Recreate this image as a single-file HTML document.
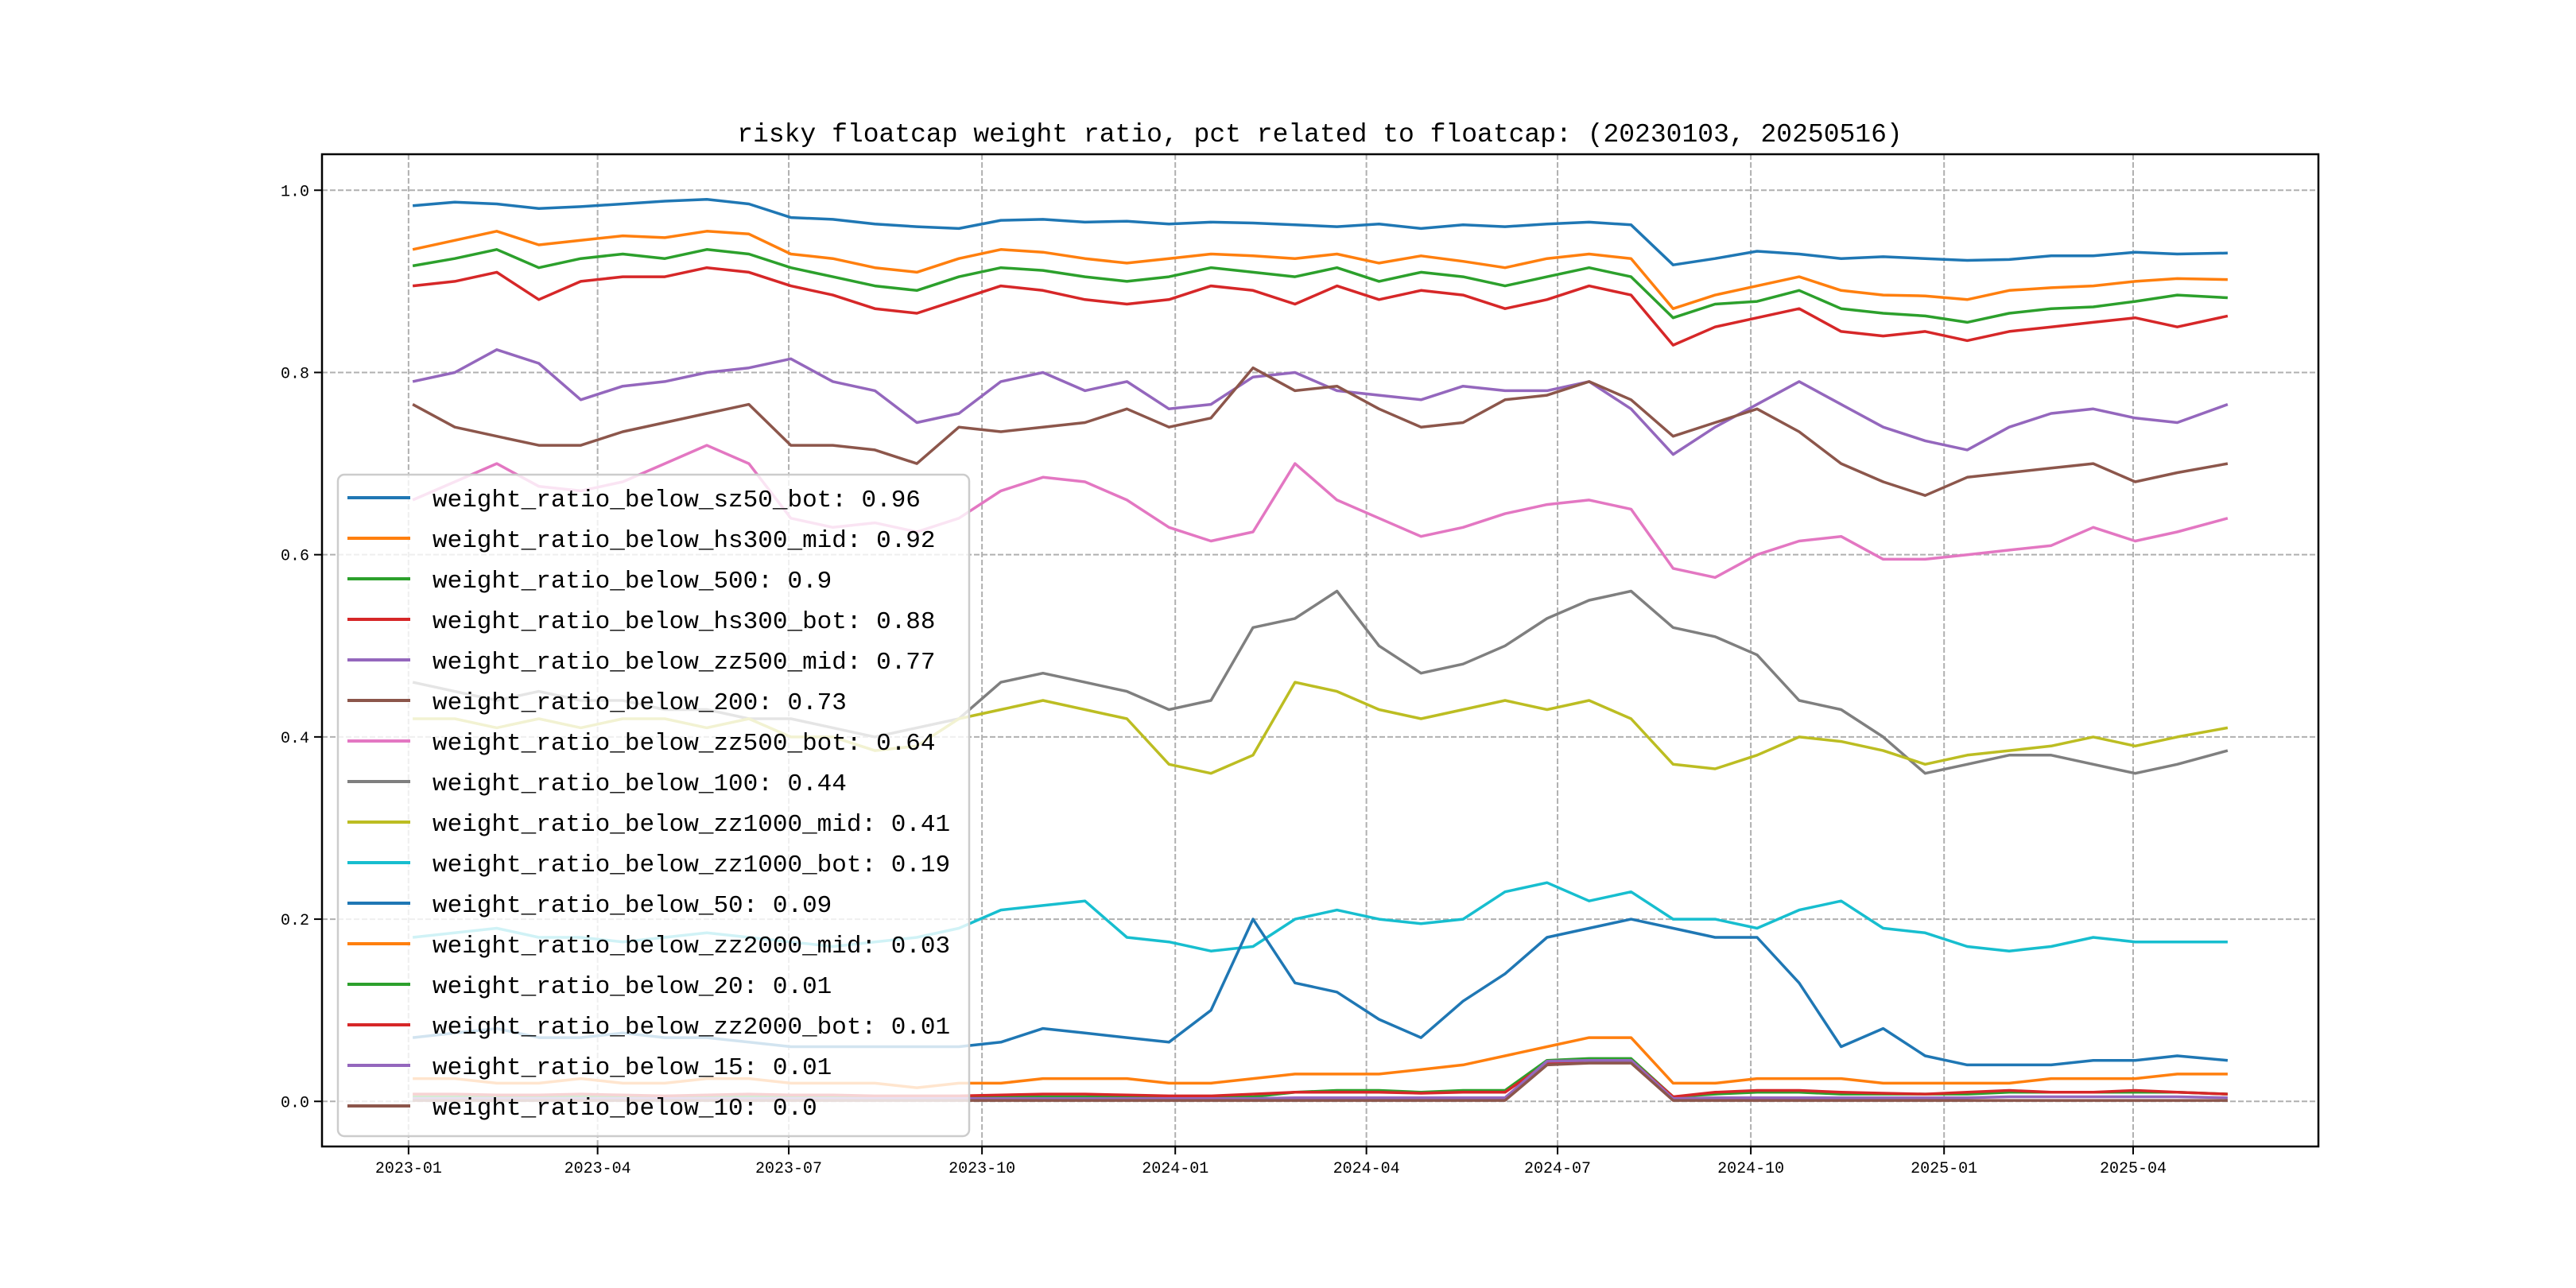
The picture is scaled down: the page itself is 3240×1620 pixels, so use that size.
<!DOCTYPE html>
<html><head><meta charset="utf-8"><style>
html,body{margin:0;padding:0;background:#fff;}
svg{display:block;}
text{font-family:"Liberation Mono","Noto Sans CJK SC",monospace;}
</style></head><body>
<svg id="chart" width="3240" height="1620" viewBox="0 0 3240 1620" xmlns="http://www.w3.org/2000/svg">
<rect x="0" y="0" width="3240" height="1620" fill="#fff"/>
<text x="1660" y="178" font-size="33" text-anchor="middle" fill="#000">risky floatcap weight ratio, pct related to floatcap: (20230103, 20250516)</text>
<g id="grid"></g>
<g id="series"></g>
<rect x="405" y="194" width="2511" height="1248" fill="none" stroke="#000" stroke-width="2.5"/>
<g id="ticks"></g>
<g id="legend"></g>
</svg>
<script>
// day offsets from 2023-01-03
const dayOffsets = [0,20,40,60,80,100,120,140,160,180,200,220,240,260,280,300,320,340,360,380,400,420,440,460,480,500,520,540,560,580,600,620,640,660,680,700,720,740,760,780,800,820,840,864];
const seriesNames = ["weight_ratio_below_sz50_bot","weight_ratio_below_hs300_mid","weight_ratio_below_500","weight_ratio_below_hs300_bot","weight_ratio_below_zz500_mid","weight_ratio_below_200","weight_ratio_below_zz500_bot","weight_ratio_below_100","weight_ratio_below_zz1000_mid","weight_ratio_below_zz1000_bot","weight_ratio_below_50","weight_ratio_below_zz2000_mid","weight_ratio_below_20","weight_ratio_below_zz2000_bot","weight_ratio_below_15","weight_ratio_below_10"];
const legendValues = ["0.96","0.92","0.9","0.88","0.77","0.73","0.64","0.44","0.41","0.19","0.09","0.03","0.01","0.01","0.01","0.0"];
const seriesColors = ["#1f77b4","#ff7f0e","#2ca02c","#d62728","#9467bd","#8c564b","#e377c2","#7f7f7f","#bcbd22","#17becf","#1f77b4","#ff7f0e","#2ca02c","#d62728","#9467bd","#8c564b"];
const sz50Bot = [.983,.987,.985,.980,.982,.985,.988,.990,.985,.970,.968,.963,.960,.958,.967,.968,.965,.966,.963,.965,.964,.962,.960,.963,.958,.962,.960,.963,.965,.962,.918,.925,.933,.930,.925,.927,.925,.923,.924,.928,.928,.932,.930,.931];
const hs300Mid = [.935,.945,.955,.940,.945,.950,.948,.955,.952,.930,.925,.915,.910,.925,.935,.932,.925,.920,.925,.930,.928,.925,.930,.920,.928,.922,.915,.925,.930,.925,.870,.885,.895,.905,.890,.885,.884,.880,.890,.893,.895,.900,.903,.902];
const below500 = [.917,.925,.935,.915,.925,.930,.925,.935,.930,.915,.905,.895,.890,.905,.915,.912,.905,.900,.905,.915,.910,.905,.915,.900,.910,.905,.895,.905,.915,.905,.860,.875,.878,.890,.870,.865,.862,.855,.865,.870,.872,.878,.885,.882];
const hs300Bot = [.895,.900,.910,.880,.900,.905,.905,.915,.910,.895,.885,.870,.865,.880,.895,.890,.880,.875,.880,.895,.890,.875,.895,.880,.890,.885,.870,.880,.895,.885,.830,.850,.860,.870,.845,.840,.845,.835,.845,.850,.855,.860,.850,.862];
const zz500Mid = [.79,.80,.825,.81,.77,.785,.79,.80,.805,.815,.79,.78,.745,.755,.79,.80,.78,.79,.76,.765,.795,.80,.78,.775,.77,.785,.78,.78,.79,.76,.71,.74,.765,.79,.765,.74,.725,.715,.74,.755,.76,.75,.745,.765];
const below200 = [.765,.74,.73,.72,.72,.735,.745,.755,.765,.72,.72,.715,.70,.74,.735,.74,.745,.76,.74,.75,.805,.78,.785,.76,.74,.745,.77,.775,.79,.77,.73,.745,.76,.735,.70,.68,.665,.685,.69,.695,.70,.68,.69,.70];
const zz500Bot = [.66,.68,.70,.675,.67,.68,.70,.72,.70,.64,.63,.635,.625,.64,.67,.685,.68,.66,.63,.615,.625,.70,.66,.64,.62,.63,.645,.655,.66,.65,.585,.575,.60,.615,.62,.595,.595,.60,.605,.61,.63,.615,.625,.64];
const below100 = [.46,.45,.44,.45,.44,.44,.43,.43,.42,.42,.41,.40,.41,.42,.46,.47,.46,.45,.43,.44,.52,.53,.56,.50,.47,.48,.50,.53,.55,.56,.52,.51,.49,.44,.43,.40,.36,.37,.38,.38,.37,.36,.37,.385];
const zz1000Mid = [.42,.42,.41,.42,.41,.42,.42,.41,.42,.40,.40,.385,.39,.42,.43,.44,.43,.42,.37,.36,.38,.46,.45,.43,.42,.43,.44,.43,.44,.42,.37,.365,.38,.40,.395,.385,.37,.38,.385,.39,.40,.39,.40,.41];
const zz1000Bot = [.18,.185,.19,.18,.18,.175,.18,.185,.18,.175,.17,.175,.18,.19,.21,.215,.22,.18,.175,.165,.17,.20,.21,.20,.195,.20,.23,.24,.22,.23,.20,.20,.19,.21,.22,.19,.185,.17,.165,.17,.18,.175,.175,.175];
const below50 = [.07,.075,.08,.07,.07,.075,.07,.07,.065,.06,.06,.06,.06,.06,.065,.08,.075,.07,.065,.10,.20,.13,.12,.09,.07,.11,.14,.18,.19,.20,.19,.18,.18,.13,.06,.08,.05,.04,.04,.04,.045,.045,.05,.045];
const zz2000Mid = [.025,.025,.02,.02,.025,.02,.02,.025,.025,.02,.02,.02,.015,.02,.02,.025,.025,.025,.02,.02,.025,.03,.03,.03,.035,.04,.05,.06,.07,.07,.02,.02,.025,.025,.025,.02,.02,.02,.02,.025,.025,.025,.03,.03];
const below20 = [.005,.005,.005,.005,.005,.005,.005,.005,.005,.005,.005,.005,.005,.005,.005,.005,.005,.005,.005,.005,.005,.01,.012,.012,.01,.012,.012,.045,.047,.047,.005,.008,.01,.01,.008,.008,.008,.008,.01,.01,.01,.01,.01,.008];
const zz2000Bot = [.008,.008,.007,.007,.008,.007,.006,.007,.008,.007,.007,.006,.006,.006,.007,.008,.008,.007,.006,.006,.008,.01,.01,.01,.009,.01,.01,.042,.045,.045,.005,.01,.012,.012,.01,.009,.008,.01,.012,.01,.01,.012,.01,.008];
const below15 = [.003,.003,.003,.003,.003,.003,.003,.003,.003,.003,.003,.003,.003,.003,.003,.003,.003,.003,.003,.003,.003,.004,.004,.004,.004,.004,.004,.044,.045,.045,.003,.004,.004,.004,.004,.004,.004,.004,.005,.005,.005,.005,.005,.004];
const below10 = [.001,.001,.001,.001,.001,.001,.001,.001,.001,.001,.001,.001,.001,.001,.001,.001,.001,.001,.001,.001,.001,.001,.001,.001,.001,.001,.001,.04,.042,.042,.001,.001,.001,.001,.001,.001,.001,.001,.001,.001,.001,.001,.001,.001];
const allSeries = [sz50Bot,hs300Mid,below500,hs300Bot,zz500Mid,below200,zz500Bot,below100,zz1000Mid,zz1000Bot,below50,zz2000Mid,below20,zz2000Bot,below15,below10];
const yTickValues = [0.0,0.2,0.4,0.6,0.8,1.0];
const yTickLabels = ["0.0","0.2","0.4","0.6","0.8","1.0"];
const xTickOffsets = [-2,88,179,271,363,454,545,637,729,819];
const xTickLabels = ["2023-01","2023-04","2023-07","2023-10","2024-01","2024-04","2024-07","2024-10","2025-01","2025-04"];

const NS="http://www.w3.org/2000/svg";
const AX={l:405,r:2916,t:194,b:1442};
const xMin=-43.2, xMax=864+43.2, yMin=-0.0495, yMax=1.0395;
function xs(d){return AX.l+(d-xMin)/(xMax-xMin)*(AX.r-AX.l);}
function ys(v){return AX.b-(v-yMin)/(yMax-yMin)*(AX.b-AX.t);}
function mk(tag,attrs,parent){const e=document.createElementNS(NS,tag);for(const k in attrs)e.setAttribute(k,attrs[k]);parent.appendChild(e);return e;}

const grid=document.getElementById('grid'), ticks=document.getElementById('ticks');
yTickValues.forEach((v,i)=>{
  const g=mk('line',{x1:AX.l,x2:AX.r,y1:ys(v),y2:ys(v),stroke:'#b0b0b0','stroke-width':2,'stroke-dasharray':'7,3'},grid);
  
  
  const t=mk('line',{x1:AX.l-10,x2:AX.l,y1:ys(v),y2:ys(v),stroke:'#000','stroke-width':2},ticks);
  
  
  const l=mk('text',{x:AX.l-16,y:ys(v)+7,'font-size':20,'text-anchor':'end',fill:'#000'},ticks);
  l.textContent=yTickLabels[i];
  
  
});
xTickOffsets.forEach((d,i)=>{
  const x=xs(d);
  const g=mk('line',{x1:x,x2:x,y1:AX.t,y2:AX.b,stroke:'#b0b0b0','stroke-width':2,'stroke-dasharray':'7,3'},grid);
  
  
  const t=mk('line',{x1:x,x2:x,y1:AX.b,y2:AX.b+10,stroke:'#000','stroke-width':2},ticks);
  
  
  const l=mk('text',{x:x,y:AX.b+33,'font-size':20,'text-anchor':'middle',fill:'#000'},ticks);
  l.textContent=xTickLabels[i];
  
  
});

const sg=document.getElementById('series');
allSeries.forEach((arr,i)=>{
  const pts=arr.map((v,j)=>xs(dayOffsets[j]).toFixed(1)+','+ys(v).toFixed(1)).join(' ');
  const p=mk('polyline',{points:pts,fill:'none',stroke:seriesColors[i],'stroke-width':3.5,'stroke-linejoin':'round'},sg);
  
  
});

const lg=document.getElementById('legend');
const box=mk('rect',{x:425,y:597,width:794,height:832,rx:8,fill:'#fff','fill-opacity':0.8,stroke:'#cccccc','stroke-width':2.5},lg);


seriesNames.forEach((n,i)=>{
  const cy=626+51*i;
  const h=mk('line',{x1:437,x2:516,y1:cy,y2:cy,stroke:seriesColors[i],'stroke-width':4},lg);
  
  
  const t=mk('text',{x:544,y:cy+11,'font-size':31,fill:'#000'},lg);
  t.textContent=n+': '+legendValues[i];
  
  
});
</script>
</body></html>
